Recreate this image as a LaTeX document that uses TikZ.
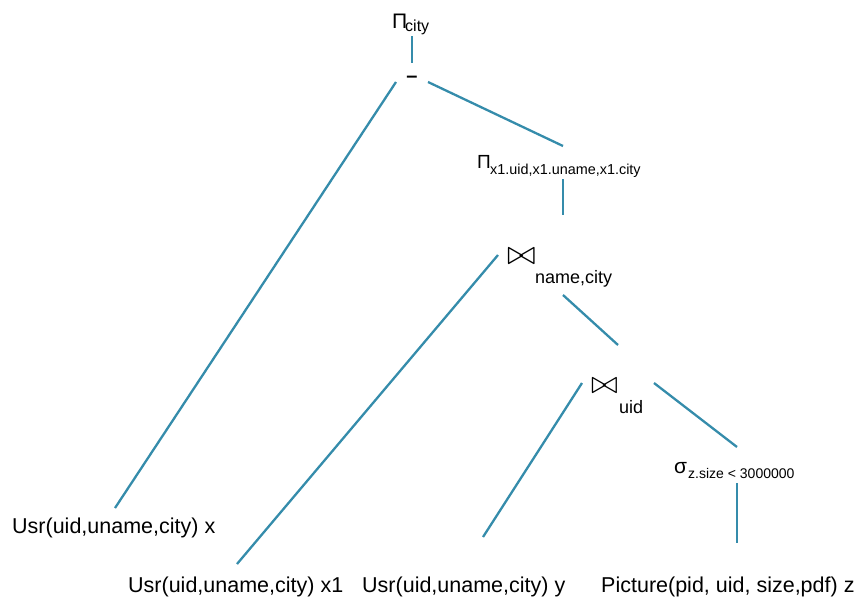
\documentclass[tikz,border=0pt]{standalone}
\usepackage[no-math]{fontspec}
\setmainfont{Liberation Sans}
\newcommand\fsz[1]{\fontsize{#1}{#1}\selectfont}
\definecolor{edgeblue}{HTML}{358CAB}
\tikzset{
  edge/.style={draw=edgeblue, line width=2.3pt},
  lbl/.style={inner sep=0pt, anchor=base west, font=\fsz{21.5}},
  opsym/.style={inner sep=0pt, anchor=base west, font=\fsz{20}},
  subs/.style={inner sep=0pt, anchor=base west, font=\fsz{14.4}},
  subl/.style={inner sep=0pt, anchor=base west, font=\fsz{18}},
  joinsym/.style={inner sep=0pt, anchor=south west},
}
\begin{document}
\begin{tikzpicture}[x=1pt, y=-1pt]
\useasboundingbox (0,0) rectangle (856,597);
% operators
\node[opsym, font=\fsz{21}] (pi1) at (392,28) {Π};
\node[subs, font=\fsz{16}] (pi1s) at (405,31) {city};
\node[opsym, anchor=center, font=\fsz{20}\bfseries] (minus) at (412,79) {–};
\node[opsym, font=\fsz{19}] (pi2) at (477,168) {Π};
\node[subs] (pi2s) at (490,174) {x1.uid,x1.uname,x1.city};
\node[joinsym] (j1) at (507,265) {\scalebox{3.4}{$\bowtie$}};
\node[subl] (j1s) at (535,283) {name,city};
\node[joinsym] (j2) at (591,394) {\scalebox{3.2}{$\bowtie$}};
\node[subl] (j2s) at (619,413) {uid};
\node[opsym, font=\fsz{21}] (sig) at (674,473) {σ};
\node[subs, font=\fsz{14}] (sigs) at (688,478) {z.size < 3000000};
% relations
\node[lbl] (r1) at (12,533) {Usr(uid,uname,city) x};
\node[lbl] (r2) at (128,592) {Usr(uid,uname,city) x1};
\node[lbl] (r3) at (362,592) {Usr(uid,uname,city) y};
\node[lbl] (r4) at (601,592) {Picture(pid, uid, size,pdf) z};
% connector end points
\coordinate (a1) at (412,36);  \coordinate (a2) at (412,63);
\coordinate (b1) at (396,82);  \coordinate (b2) at (115,508);
\coordinate (c1) at (428,82);  \coordinate (c2) at (563,146);
\coordinate (d1) at (563,179); \coordinate (d2) at (563,215);
\coordinate (e1) at (498,255); \coordinate (e2) at (237,564);
\coordinate (f1) at (563,295); \coordinate (f2) at (618,345);
\coordinate (g1) at (582,383); \coordinate (g2) at (483,537);
\coordinate (h1) at (654,383); \coordinate (h2) at (737,447);
\coordinate (k1) at (737,483); \coordinate (k2) at (737,543);
\draw[edge] (a1) -- (a2);
\draw[edge] (b1) -- (b2);
\draw[edge] (c1) -- (c2);
\draw[edge] (d1) -- (d2);
\draw[edge] (e1) -- (e2);
\draw[edge] (f1) -- (f2);
\draw[edge] (g1) -- (g2);
\draw[edge] (h1) -- (h2);
\draw[edge] (k1) -- (k2);
\end{tikzpicture}
\end{document}
